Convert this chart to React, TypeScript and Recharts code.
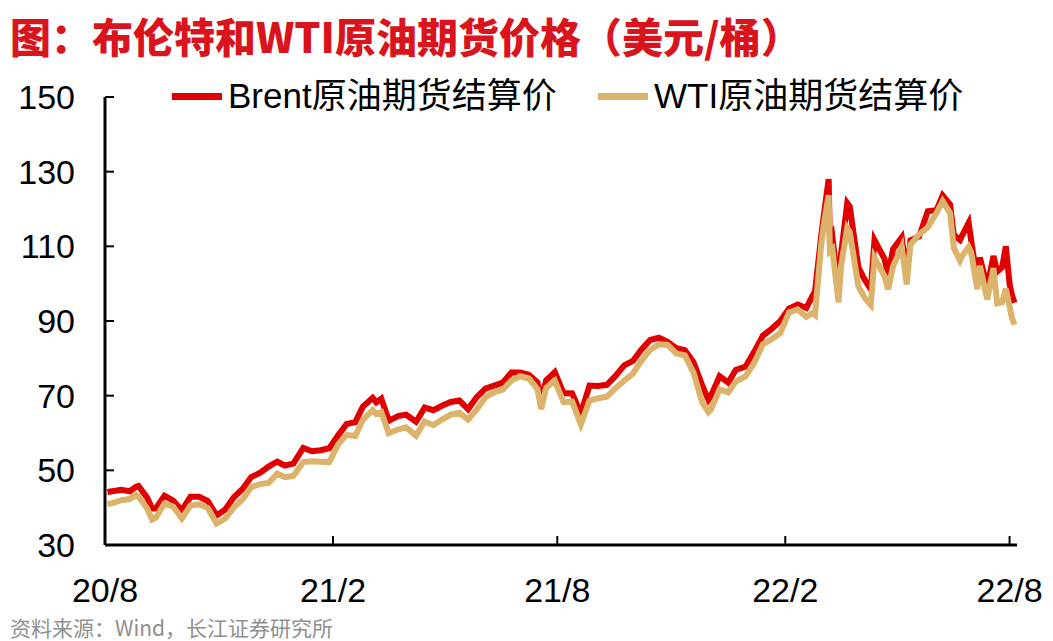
import { LineChart, Line, XAxis, YAxis } from "recharts";

// weekly settlement prices (plus a few spike days)
const dates = [
  "2020-08-03", "2020-08-07", "2020-08-14", "2020-08-21", "2020-08-26", "2020-08-28",
  "2020-09-04", "2020-09-08", "2020-09-11", "2020-09-18", "2020-09-25", "2020-10-02",
  "2020-10-09", "2020-10-16", "2020-10-23", "2020-10-30", "2020-11-06", "2020-11-13",
  "2020-11-20", "2020-11-27", "2020-12-04", "2020-12-11", "2020-12-18", "2020-12-24",
  "2020-12-31", "2021-01-08", "2021-01-15", "2021-01-22", "2021-01-29", "2021-02-05",
  "2021-02-12", "2021-02-19", "2021-02-25", "2021-03-05", "2021-03-08", "2021-03-12",
  "2021-03-18", "2021-03-26", "2021-04-01", "2021-04-09", "2021-04-16", "2021-04-23",
  "2021-04-30", "2021-05-07", "2021-05-14", "2021-05-21", "2021-05-28", "2021-06-04",
  "2021-06-11", "2021-06-18", "2021-06-25", "2021-07-02", "2021-07-09", "2021-07-16",
  "2021-07-19", "2021-07-23", "2021-07-30", "2021-08-06", "2021-08-13", "2021-08-20",
  "2021-08-27", "2021-09-03", "2021-09-10", "2021-09-17", "2021-09-24", "2021-10-01",
  "2021-10-08", "2021-10-15", "2021-10-22", "2021-10-29", "2021-11-05", "2021-11-12",
  "2021-11-19", "2021-11-26", "2021-12-01", "2021-12-03", "2021-12-10", "2021-12-17",
  "2021-12-23", "2021-12-31", "2022-01-07", "2022-01-14", "2022-01-21", "2022-01-28",
  "2022-02-04", "2022-02-11", "2022-02-18", "2022-02-23", "2022-02-25", "2022-03-02",
  "2022-03-04", "2022-03-08", "2022-03-09", "2022-03-11", "2022-03-16", "2022-03-18",
  "2022-03-23", "2022-03-25", "2022-04-01", "2022-04-06", "2022-04-11", "2022-04-14",
  "2022-04-22", "2022-04-25", "2022-04-29", "2022-05-06", "2022-05-10", "2022-05-13",
  "2022-05-20", "2022-05-27", "2022-06-03", "2022-06-08", "2022-06-14", "2022-06-17",
  "2022-06-22", "2022-06-24", "2022-06-29", "2022-07-01", "2022-07-06", "2022-07-08",
  "2022-07-14", "2022-07-19", "2022-07-22", "2022-07-26", "2022-07-29", "2022-08-01",
  "2022-08-03", "2022-08-05",
];

const brent = [
  44.2, 44.4, 44.8, 44.4, 45.6, 45.8,
  42.7, 39.8, 39.8, 43.2, 41.9, 39.3,
  42.9, 42.9, 41.8, 37.9, 39.5, 42.8,
  45.0, 48.2, 49.3, 51.0, 52.3, 51.3,
  51.8, 56.0, 55.1, 55.4, 55.9, 59.3,
  62.4, 62.9, 67.0, 69.4, 68.2, 69.2,
  63.3, 64.6, 64.9, 63.0, 66.8, 66.1,
  67.3, 68.3, 68.7, 66.4, 69.6, 71.9,
  72.7, 73.5, 76.2, 76.2, 75.6, 73.6,
  68.6, 74.1, 76.3, 70.7, 70.6, 65.2,
  72.7, 72.6, 72.9, 75.3, 78.1, 79.3,
  82.4, 84.9, 85.5, 84.4, 82.7, 82.2,
  78.9, 72.7, 68.9, 69.9, 75.2, 73.5,
  76.9, 77.8, 81.8, 86.1, 87.9, 90.0,
  93.3, 94.4, 93.5, 96.8, 97.9, 112.9,
  118.1, 128.0, 111.1, 112.7, 98.0, 107.9,
  121.6, 120.7, 104.4, 101.1, 98.5, 111.7,
  106.7, 102.3, 109.3, 112.4, 102.5, 111.6,
  112.6, 119.4, 119.7, 123.6, 121.2, 113.1,
  111.7, 113.1, 116.3, 111.6, 100.7, 107.0,
  99.1, 107.4, 103.2, 104.4, 110.0, 100.0,
  96.8, 94.9,
];

const wti = [
  41.0, 41.2, 42.0, 42.3, 43.4, 43.0,
  39.8, 36.8, 37.3, 41.1, 40.3, 37.1,
  40.6, 40.9, 39.9, 35.8, 37.1, 40.1,
  42.2, 45.5, 46.3, 46.6, 49.1, 48.2,
  48.5, 52.2, 52.4, 52.3, 52.2, 56.9,
  59.5, 59.2, 63.5, 66.1, 65.1, 65.6,
  60.0, 61.0, 61.5, 59.3, 63.1, 62.1,
  63.6, 64.9, 65.4, 63.6, 66.3, 69.6,
  70.9, 71.6, 74.1, 75.2, 74.6, 71.8,
  66.4, 72.1, 74.0, 68.3, 68.4, 62.3,
  68.7, 69.3, 69.7, 72.0, 74.0, 75.9,
  79.4, 82.3, 83.8, 83.6, 81.3, 80.8,
  76.1, 68.2, 65.6, 66.3, 71.7, 70.9,
  73.8, 75.2, 78.9, 83.8, 85.1, 86.8,
  92.3, 93.1, 91.1, 92.1, 91.6, 110.6,
  115.7, 123.7, 108.7, 109.3, 95.0, 104.7,
  114.9, 113.9, 99.3, 96.2, 94.3, 107.0,
  102.1, 98.5, 104.7, 109.8, 99.8, 110.5,
  113.2, 115.1, 118.9, 122.1, 118.9, 109.6,
  106.2, 107.6, 109.8, 108.4, 98.5, 104.8,
  95.8, 104.2, 94.7, 95.0, 98.6, 93.9,
  90.7, 89.0,
];

const yTicks = [30, 50, 70, 90, 110, 130, 150];
const xTickDates = ["2020-08-01", "2021-02-01", "2021-08-01", "2022-02-01", "2022-08-01"];
const xTickLabels = ["20/8", "21/2", "21/8", "22/2", "22/8"];
const domainStart = "2020-08-01";
const domainEnd = "2022-08-07";

const BRENT = "#e00000";
const WTI = "#dcb36a";
const LATIN = '"Liberation Sans", Arial, "Noto Sans CJK SC", sans-serif';

const toDay = (s: string) => Date.parse(s + "T00:00:00Z") / 86400000;

const data = dates.map((d, i) => ({ t: toDay(d), brent: brent[i], wti: wti[i] }));
const xTicks = xTickDates.map(toDay);

function LegendItem({ color, label, left }: { color: string; label: string; left: number }) {
  return (
    <div style={{ position: "absolute", left, top: 76, display: "flex", alignItems: "center", whiteSpace: "nowrap" }}>
      <div style={{ width: 50, height: 7, background: color, marginRight: 6 }} />
      <span style={{ fontSize: 35, fontFamily: LATIN, color: "#000", lineHeight: "40px" }}>{label}</span>
    </div>
  );
}

export default function App() {
  return (
    <div style={{ position: "absolute", left: 0, top: 0, width: 1053, height: 641, background: "#fff", overflow: "hidden" }}>
      <div
        style={{
          position: "absolute", left: 10, top: 10, fontSize: 41, fontWeight: 900,
          color: "#d9141c", fontFamily: '"Noto Sans CJK SC", sans-serif', lineHeight: "50px", whiteSpace: "nowrap",
        }}
      >
        图：布伦特和WTI原油期货价格（美元/桶）
      </div>
      <LineChart width={1053} height={641} data={data} margin={{ top: 97, right: 36, bottom: 36, left: 5 }}>
        <XAxis
          dataKey="t"
          type="number"
          domain={[toDay(domainStart), toDay(domainEnd)]}
          ticks={xTicks}
          tickFormatter={(v: number) => xTickLabels[xTicks.indexOf(v)]}
          height={60}
          axisLine={{ stroke: "#000", strokeWidth: 3 }}
          tickLine={{ stroke: "#000", strokeWidth: 2 }}
          tickSize={-9}
          tickMargin={42}
          tick={{ fontSize: 34, fill: "#000", fontFamily: LATIN }}
          interval={0}
        />
        <YAxis
          domain={[30, 150]}
          ticks={yTicks}
          width={100}
          axisLine={{ stroke: "#000", strokeWidth: 3 }}
          tickLine={{ stroke: "#000", strokeWidth: 2 }}
          tickSize={-9}
          tickMargin={39}
          tick={{ fontSize: 34, fill: "#000", fontFamily: LATIN }}
          interval={0}
        />
        <Line dataKey="brent" stroke={BRENT} strokeWidth={6} dot={false} isAnimationActive={false} />
        <Line dataKey="wti" stroke={WTI} strokeWidth={6} dot={false} isAnimationActive={false} />
      </LineChart>
      <LegendItem color={BRENT} label="Brent原油期货结算价" left={172} />
      <LegendItem color={WTI} label="WTI原油期货结算价" left={598} />
      <div
        style={{
          position: "absolute", left: 10, top: 612, fontSize: 21, color: "#8f8f8f",
          fontFamily: '"Noto Sans CJK SC", sans-serif', lineHeight: "30px", whiteSpace: "nowrap",
        }}
      >
        资料来源：Wind，长江证券研究所
      </div>
    </div>
  );
}
